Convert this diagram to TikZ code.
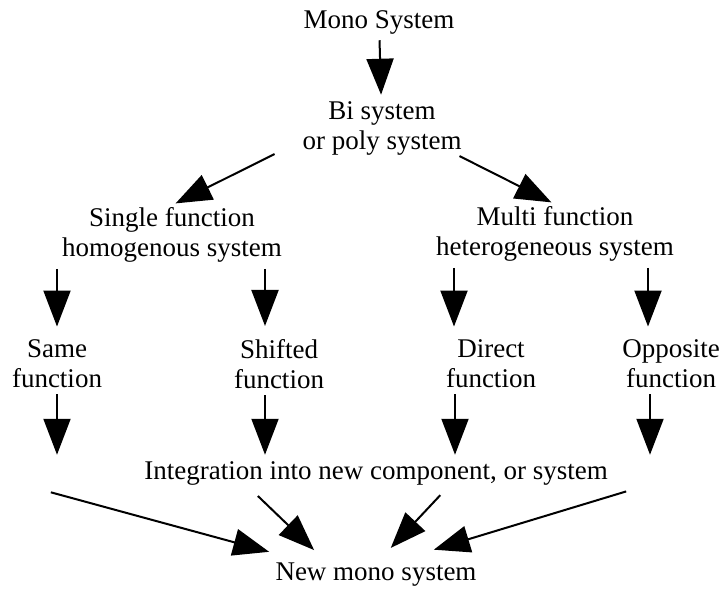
\documentclass[tikz,border=0pt]{standalone}
\usepackage{fontspec}
\setmainfont{Liberation Serif}
\usepackage{tikz}
\usetikzlibrary{arrows.meta,calc}

\begin{document}
\begin{tikzpicture}[x=0.5pt,y=-0.5pt,shorten >=2pt,shorten <=2pt]
	\tikzstyle{txt}=[align=center,inner sep=1pt,font=\fontsize{13.5}{15}\selectfont]
	\tikzstyle{arr}=[-{Triangle[length=18pt,width=13.5pt]},line width=1pt]
	
	\useasboundingbox (0,0) rectangle (721,589);
	
	\node[txt](mono) at (379,22){Mono System};
	\node[txt](bi) at (382,128){Bi system\\or poly system};
	
	\node[txt](single) at (172,235){Single function\\homogenous system};
	\node[txt](multi) at (555,234){Multi function\\heterogeneous system};
	
	\node[txt](same) at (57,364){Same\\function};
	\node[txt](shifted) at (279,364){Shifted\\function};
	\node[txt](direct) at (491,364){Direct\\function};
	\node[txt](opposite) at (671,364){Opposite\\function};
	
	\node[txt](integ) at (376,473){Integration into new component, or system};
	\node[txt](newmono) at (376,575){New mono system};
	
	\draw[arr] (mono) -- (bi);
	\draw[arr] ($(bi.south west)+(-22,-5)$) -- (single.north);
	\draw[arr] ($(bi.south east)+(-8,-3)$) -- (multi.north);
	
	% split of each branch
	\draw[arr,shorten >=5.5pt] (single.south -| same.north) -- (same.north);
	\draw[arr,shorten >=5.5pt] ($(single.south -| shifted.north)+(-14,0)$) -- ($(shifted.north)+(-14,0)$);
	\draw[arr,shorten >=5.5pt] ($(multi.south -| direct.north)+(-37,0)$) -- ($(direct.north)+(-37,0)$);
	\draw[arr,shorten >=5.5pt] ($(multi.south -| opposite.north)+(-23,0)$) -- ($(opposite.north)+(-23,0)$);
	
	\draw[arr] (same) -- (integ.north -| same);
	\draw[arr] ($(shifted.south)+(-14,0)$) -- ($(integ.north -| shifted)+(-14,0)$);
	\draw[arr] ($(direct.south)+(-36,0)$) -- ($(integ.north -| direct)+(-36,0)$);
	\draw[arr] ($(opposite.south)+(-21,0)$) -- ($(integ.north -| opposite)+(-21,0)$);
	
	\draw[arr] ($(integ.south)+(-329,4)$) -- ($(newmono.north)+(-103,-8)$);
	\draw[arr] ($(integ.south)+(-121,6)$) -- ($(newmono.north)+(-59,-8)$);
	\draw[arr] ($(integ.south)+(67,5)$) -- ($(newmono.north)+(12,-10)$);
	\draw[arr] ($(integ.south)+(254,3)$) -- ($(newmono.north)+(54,-10)$);
	
\end{tikzpicture}
\end{document}
